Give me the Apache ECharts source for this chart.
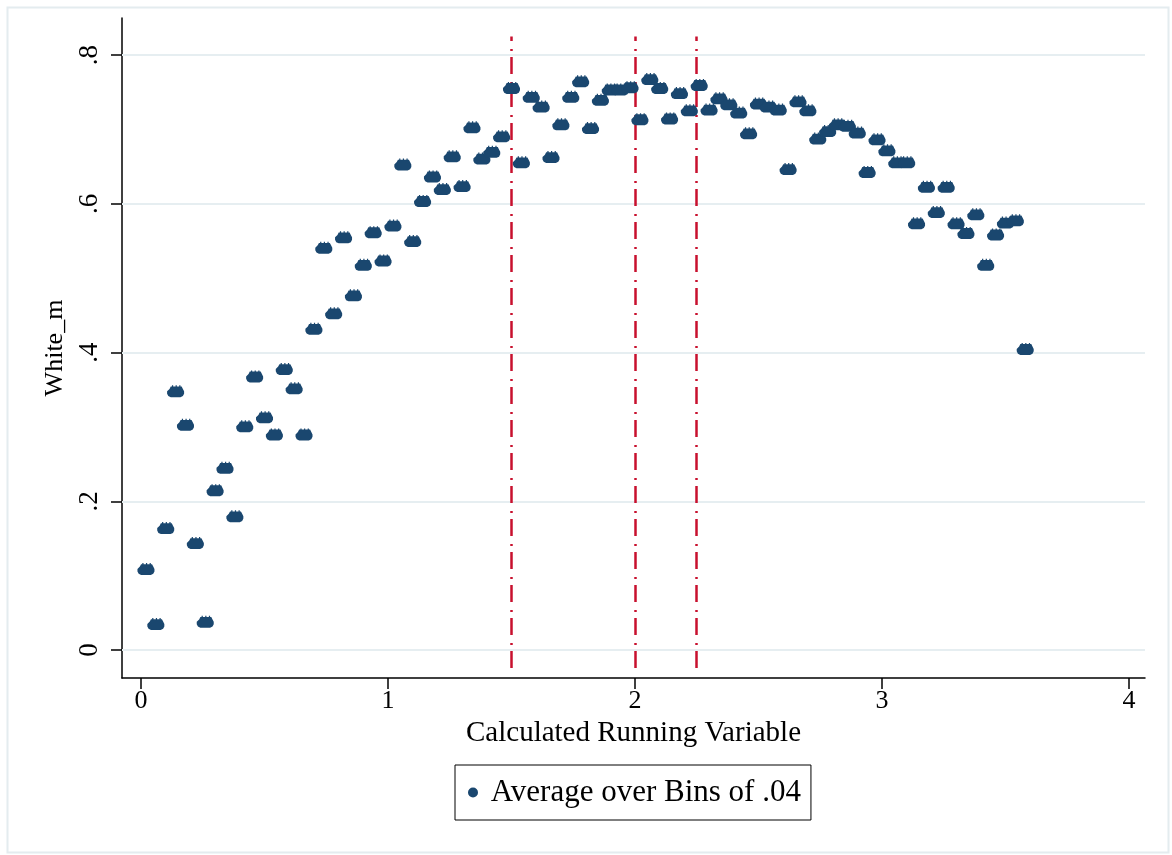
<!DOCTYPE html>
<html>
<head>
<meta charset="utf-8">
<script src="https://cdn.jsdelivr.net/npm/echarts@6/dist/echarts.min.js"></script>
<style>
html,body{margin:0;padding:0;background:#fff;}
#chart{width:1172px;height:855px;}
</style>
</head>
<body>
<div id="chart"></div>
<script>
// Bin centers (Calculated Running Variable), bins of .04
const binCenters = [
  0.02,0.06,0.10,0.14,0.18,0.22,0.26,0.30,0.34,0.38,
  0.42,0.46,0.50,0.54,0.58,0.62,0.66,0.70,0.74,0.78,
  0.82,0.86,0.90,0.94,0.98,1.02,1.06,1.10,1.14,1.18,
  1.22,1.26,1.30,1.34,1.38,1.42,1.46,1.50,1.54,1.58,
  1.62,1.66,1.70,1.74,1.78,1.82,1.86,1.90,1.94,1.98,
  2.02,2.06,2.10,2.14,2.18,2.22,2.26,2.30,2.34,2.38,
  2.42,2.46,2.50,2.54,2.58,2.62,2.66,2.70,2.74,2.78,
  2.82,2.86,2.90,2.94,2.98,3.02,3.06,3.10,3.14,3.18,
  3.22,3.26,3.30,3.34,3.38,3.42,3.46,3.50,3.54,3.58
];
// White_m averages per bin
const whiteM = [
  0.109,0.035,0.164,0.348,0.303,0.144,0.038,0.215,0.245,0.180,
  0.301,0.368,0.313,0.290,0.378,0.352,0.290,0.432,0.541,0.453,
  0.555,0.477,0.518,0.562,0.524,0.571,0.653,0.550,0.604,0.637,
  0.620,0.664,0.624,0.703,0.661,0.670,0.691,0.756,0.656,0.744,
  0.731,0.663,0.707,0.744,0.765,0.702,0.740,0.754,0.754,0.757,
  0.714,0.768,0.756,0.715,0.749,0.726,0.760,0.727,0.742,0.734,
  0.723,0.695,0.735,0.731,0.727,0.647,0.738,0.726,0.688,0.698,
  0.707,0.705,0.696,0.643,0.687,0.672,0.656,0.656,0.574,0.623,
  0.589,0.623,0.574,0.561,0.586,0.518,0.559,0.575,0.578,0.405
];
// Vertical reference lines
const xLines = [1.5, 2, 2.25];
// Tick values
const xTicks = [0, 1, 2, 3, 4];
const yTicks = [0, 0.2, 0.4, 0.6, 0.8];
const yTickLabels = ['0', '.2', '.4', '.6', '.8'];

const xMin = -0.077, xMax = 4.065;
const yMin = -0.0376, yMax = 0.85;
const lineYLow = -0.024, lineYHigh = 0.825;

const points = binCenters.map((x, i) => [x, whiteM[i]]);

const serif = '"Liberation Serif", "DejaVu Serif", serif';
const navy = '#1a476f';
const blob = 'path://M2,3 L3,1 L4,1 L4,0 L5,0 L5,1 L7,1 L7,0 L8,0 L8,1 L10,1 L10,0 L11,0 L11,1 L12,1 L13,3 L14,5 L14,7 L13,9 L11,10 L3,10 L1,9 L0,7 L0,5 Z';

const chart = echarts.init(document.getElementById('chart'));
chart.setOption({
  animation: false,
  backgroundColor: '#ffffff',
  graphic: [{
    type: 'rect', left: 5, top: 5, z: -10, silent: true,
    shape: { width: 1161, height: 845 },
    style: { fill: 'none', stroke: '#e4ecef', lineWidth: 2 }
  }],
  grid: { left: 122, right: 27, top: 18, bottom: 177, containLabel: false },
  xAxis: {
    type: 'value', min: xMin, max: xMax,
    name: 'Calculated Running Variable', nameLocation: 'middle', nameGap: 39,
    nameTextStyle: { fontFamily: serif, fontSize: 29, color: '#000' },
    axisLine: { show: true, onZero: false, lineStyle: { color: '#000', width: 1.5 } },
    axisTick: { show: true, customValues: xTicks, length: 11, lineStyle: { color: '#000', width: 1.5 } },
    axisLabel: { customValues: xTicks, fontFamily: serif, fontSize: 26, color: '#000', margin: 10 },
    splitLine: { show: false }
  },
  yAxis: {
    type: 'value', min: yMin, max: yMax,
    name: 'White_m', nameLocation: 'middle', nameGap: 53, nameRotate: 90,
    nameTextStyle: { fontFamily: serif, fontSize: 26, color: '#000' },
    axisLine: { show: true, onZero: false, lineStyle: { color: '#000', width: 1.5 } },
    axisTick: { show: true, customValues: yTicks, length: 11, lineStyle: { color: '#000', width: 1.5 } },
    axisLabel: {
      customValues: yTicks, rotate: 90, fontFamily: serif, fontSize: 27, color: '#000', margin: 19,
      formatter: v => { const i = yTicks.findIndex(t => Math.abs(t - v) < 1e-9); return i >= 0 ? yTickLabels[i] : ''; }
    },
    splitLine: { show: false }
  },
  legend: {
    left: 455, top: 765,
    data: ['Average over Bins of .04'],
    orient: 'horizontal',
    borderColor: '#000', borderWidth: 1, borderRadius: 0,
    padding: [12, 10, 12, 13],
    itemWidth: 10, itemHeight: 10, itemGap: 10,
    icon: 'circle',
    formatter: name => ' ' + name,
    textStyle: { fontFamily: serif, fontSize: 31, color: '#000' }
  },
  series: [
    {
      name: 'refs', type: 'scatter', data: [], z: 1, silent: true,
      markLine: {
        silent: true, symbol: 'none', animation: false,
        label: { show: false },
        data: [
          ...yTicks.map(v => ({ yAxis: v, lineStyle: { color: '#e6eef1', width: 2, type: 'solid' } })),
          ...xLines.map(x => [
            { coord: [x, lineYLow], lineStyle: { color: '#c8102e', width: 2.5, type: [17, 6, 2, 8] } },
            { coord: [x, lineYHigh] }
          ])
        ]
      }
    },
    {
      name: 'Average over Bins of .04', type: 'scatter', z: 5,
      data: points,
      symbol: blob, symbolSize: [17, 12], symbolKeepAspect: false,
      itemStyle: { color: navy, opacity: 1 }
    }
  ]
});
</script>
</body>
</html>
